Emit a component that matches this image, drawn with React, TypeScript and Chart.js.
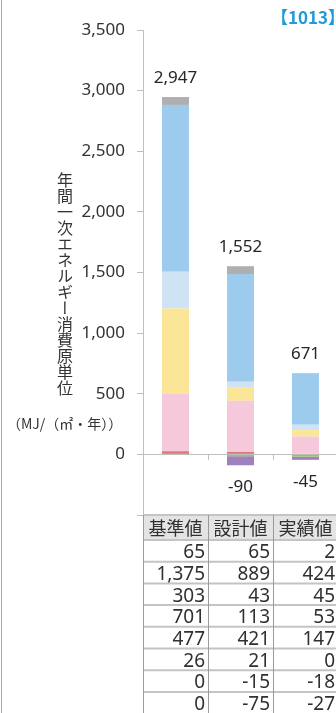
import React, { useEffect, useRef } from 'react';
import { Chart, registerables } from 'chart.js';

Chart.register(...registerables);

// ---- data ----
const categories = ['基準値', '設計値', '実績値'];
const grayValues = [65, 65, 2];
const blueValues = [1375, 889, 424];
const lightBlueValues = [303, 43, 45];
const yellowValues = [701, 113, 53];
const pinkValues = [477, 421, 147];
const redValues = [26, 21, 0];
const greenValues = [0, -15, -18];
const purpleValues = [0, -75, -27];
const yMin = -500;
const yMax = 3500;
const yStep = 500;
const yAxisTitle = '年間一次エネルギー消費原単位';
const unitLabel = '（MJ/（㎡・年））';
const tagLabel = '【1013】';

const tableRows = [grayValues, blueValues, lightBlueValues, yellowValues, pinkValues, redValues, greenValues, purpleValues];

const fmt = (v: number) => v.toLocaleString('en-US');
const NUM_FONT = '"Noto Sans", "DejaVu Sans", sans-serif';
const JP_FONT = '"Noto Sans CJK JP", "Noto Sans", sans-serif';
const AXIS_COLOR = '#bfbfbf';
const TEXT_COLOR = '#333333';

const totalsPlugin = {
  id: 'totalsLabels',
  afterDatasetsDraw(chart: any) {
    const { ctx, scales } = chart;
    const x = scales.x;
    const y = scales.y;
    ctx.save();
    ctx.font = `17px ${NUM_FONT}`;
    ctx.fillStyle = '#262626';
    ctx.textAlign = 'center';
    ctx.textBaseline = 'middle';
    categories.forEach((_, i) => {
      let pos = 0;
      let neg = 0;
      chart.data.datasets.forEach((ds: any) => {
        const v = ds.data[i] as number;
        if (v > 0) pos += v;
        else neg += v;
      });
      const cx = x.getPixelForValue(i);
      ctx.fillText(fmt(pos), cx, y.getPixelForValue(pos) - 19);
      if (neg < 0) ctx.fillText(fmt(neg), cx, y.getPixelForValue(neg) + 22);
    });
    ctx.restore();
  },
};

const tablePlugin = {
  id: 'dataTable',
  afterDraw(chart: any) {
    const { ctx, chartArea, scales } = chart;
    const x = scales.x;
    const n = categories.length;
    const colW = (chartArea.right - chartArea.left) / n;
    const left = chartArea.left;
    const right = chartArea.right;
    const top = chartArea.bottom;
    const headerH = 25;
    const rowH = 21.7;
    ctx.save();
    // header background
    ctx.fillStyle = '#e4e4e4';
    ctx.fillRect(left, top, right - left, headerH);
    // header text
    ctx.font = `18px ${JP_FONT}`;
    ctx.fillStyle = '#303030';
    ctx.textAlign = 'center';
    ctx.textBaseline = 'middle';
    categories.forEach((c, i) => {
      ctx.fillText(c, x.getPixelForValue(i), top + headerH / 2 + 1);
    });
    // rows
    ctx.font = `19px ${NUM_FONT}`;
    ctx.textAlign = 'right';
    tableRows.forEach((row, r) => {
      const rowTop = top + headerH + r * rowH;
      row.forEach((v, i) => {
        const colRight = x.getPixelForValue(i) + colW / 2;
        ctx.fillText(fmt(v), colRight - 3, rowTop + rowH / 2 + 2);
      });
    });
    // horizontal lines
    ctx.strokeStyle = '#c4c4c4';
    ctx.lineWidth = 2;
    for (let r = 0; r <= tableRows.length; r++) {
      const yy = r === 0 ? top : top + headerH + (r - 1) * rowH;
      ctx.beginPath();
      ctx.moveTo(left, yy);
      ctx.lineTo(right, yy);
      ctx.stroke();
    }
    // vertical lines
    ctx.strokeStyle = '#9a9a9a';
    ctx.lineWidth = 1;
    for (let i = 0; i <= n; i++) {
      const xx = Math.round(left + i * colW) + 0.5;
      ctx.beginPath();
      ctx.moveTo(xx, top);
      ctx.lineTo(xx, chart.height);
      ctx.stroke();
    }
    ctx.restore();
  },
};

export default function App() {
  const ref = useRef<HTMLCanvasElement>(null);

  useEffect(() => {
    document.body.style.margin = '0';
    const mk = (label: string, data: number[], color: string) => ({
      label,
      data,
      backgroundColor: color,
      borderWidth: 0,
      barPercentage: 0.415,
      categoryPercentage: 1,
    });
    const chart = new Chart(ref.current as HTMLCanvasElement, {
      type: 'bar',
      data: {
        labels: categories,
        datasets: [
          mk('red', redValues, '#da787a'),
          mk('pink', pinkValues, '#f6c8dc'),
          mk('yellow', yellowValues, '#fae696'),
          mk('lightblue', lightBlueValues, '#cfe3f5'),
          mk('blue', blueValues, '#9dcbee'),
          mk('gray', grayValues, '#afafb1'),
          mk('green', greenValues, '#96c850'),
          mk('purple', purpleValues, '#a080be'),
        ],
      },
      options: {
        responsive: false,
        animation: false,
        events: [],
        layout: { padding: { top: 30, bottom: 198, left: 0, right: 0 } },
        plugins: {
          legend: { display: false },
          tooltip: { enabled: false },
          title: { display: false },
        },
        scales: {
          x: {
            stacked: true,
            position: { y: 0 } as any,
            grid: {
              display: true,
              drawOnChartArea: false,
              drawTicks: true,
              tickLength: 5,
              offset: true,
              color: AXIS_COLOR,
            },
            border: { display: true, color: AXIS_COLOR, width: 1 },
            ticks: { display: false },
          },
          y: {
            stacked: true,
            min: yMin,
            max: yMax,
            afterFit(scale: any) {
              scale.width = 143;
            },
            grid: {
              display: true,
              drawOnChartArea: false,
              drawTicks: true,
              tickLength: 6,
              color: AXIS_COLOR,
            },
            border: { display: true, color: AXIS_COLOR, width: 1 },
            ticks: {
              stepSize: yStep,
              padding: 12,
              color: TEXT_COLOR,
              font: { family: NUM_FONT, size: 17 },
              callback: (v: any) => (Number(v) < 0 ? '' : fmt(Number(v))),
            },
          },
        },
      },
      plugins: [totalsPlugin, tablePlugin],
    });
    if ((document as any).fonts && (document as any).fonts.ready) {
      (document as any).fonts.ready.then(() => {
        try { chart.update(); } catch (e) { /* destroyed */ }
      });
    }
    return () => chart.destroy();
  }, []);

  return (
    <div style={{ position: 'relative', width: 336, height: 713, overflow: 'hidden', background: '#ffffff' }}>
      <canvas
        ref={ref}
        width={338}
        height={713}
        style={{ position: 'absolute', left: 0, top: 0, width: 338, height: 713 }}
      />
      <div style={{ position: 'absolute', left: 1, top: 0, width: 1, height: 713, background: '#a8a8a8' }} />
      <div
        style={{
          position: 'absolute',
          left: 57,
          top: 172,
          writingMode: 'vertical-rl',
          fontSize: 16,
          lineHeight: '16px',
          fontFamily: JP_FONT,
          color: TEXT_COLOR,
          whiteSpace: 'nowrap',
        }}
      >
        {yAxisTitle}
      </div>
      <div
        style={{
          position: 'absolute',
          left: 7,
          top: 416,
          fontSize: 14,
          lineHeight: '15px',
          fontFamily: JP_FONT,
          color: TEXT_COLOR,
          whiteSpace: 'nowrap',
        }}
      >
        {unitLabel}
      </div>
      <div
        style={{
          position: 'absolute',
          left: 271,
          top: 7,
          fontSize: 17,
          lineHeight: '20px',
          fontWeight: 'bold',
          fontFamily: JP_FONT,
          color: '#1f9bd7',
          whiteSpace: 'nowrap',
        }}
      >
        {tagLabel}
      </div>
    </div>
  );
}
